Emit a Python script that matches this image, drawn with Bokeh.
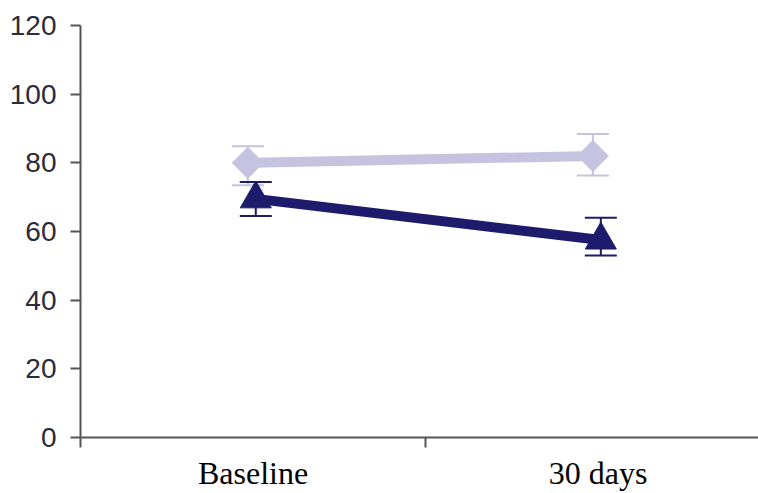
from bokeh.plotting import figure
from bokeh.models import ColumnDataSource, Whisker, TeeHead, FixedTicker, Range1d
from bokeh.embed import file_html
from bokeh.resources import INLINE

categories = ["Baseline", "30 days"]
light_vals = [80, 82]
light_lower = [73.5, 76.3]
light_upper = [84.8, 88.4]
dark_vals = [69.5, 57.5]
dark_lower = [64.5, 53]
dark_upper = [74.4, 64]
y_ticks = [0, 20, 40, 60, 80, 100, 120]

LIGHT = "#c6c3e0"
DARK = "#1e1b6c"

centers = [i + 0.5 for i in range(len(categories))]
light_x = [c - 0.015 for c in centers]
dark_x = [c + 0.008 for c in centers]

p = figure(width=758, height=493, output_backend="svg", toolbar_location=None,
           x_range=Range1d(0, 1.965), y_range=Range1d(0, 120),
           min_border_left=80, min_border_right=0, min_border_top=25, min_border_bottom=55)
p.outline_line_color = None
p.xgrid.visible = False
p.ygrid.visible = False

src_l = ColumnDataSource(dict(x=light_x, y=light_vals, lo=light_lower, hi=light_upper))
src_d = ColumnDataSource(dict(x=dark_x, y=dark_vals, lo=dark_lower, hi=dark_upper))

p.line("x", "y", source=src_l, line_color=LIGHT, line_width=10)
wl = Whisker(base="x", lower="lo", upper="hi", source=src_l, line_color=LIGHT, line_width=2,
             upper_head=TeeHead(size=32, line_color=LIGHT, line_width=2),
             lower_head=TeeHead(size=32, line_color=LIGHT, line_width=2))
p.add_layout(wl)
p.scatter("x", "y", source=src_l, marker="square", angle=0.785398, size=22,
          fill_color=LIGHT, line_color=LIGHT)

p.line("x", "y", source=src_d, line_color=DARK, line_width=10)
wd = Whisker(base="x", lower="lo", upper="hi", source=src_d, line_color=DARK, line_width=2,
             upper_head=TeeHead(size=32, line_color=DARK, line_width=2),
             lower_head=TeeHead(size=32, line_color=DARK, line_width=2))
p.add_layout(wd)
p.scatter("x", "y", source=src_d, marker="triangle", size=31,
          fill_color=DARK, line_color=DARK)

# y axis
ya = p.yaxis[0]
ya.ticker = FixedTicker(ticks=y_ticks)
ya.axis_line_color = "#555555"
ya.axis_line_width = 2
ya.major_tick_line_color = "#555555"
ya.major_tick_line_width = 2
ya.major_tick_in = 0
ya.major_tick_out = 10
ya.minor_tick_line_color = None
ya.major_label_text_font = "Liberation Sans"
ya.major_label_text_font_size = "28px"
ya.major_label_text_color = "#2b2b3b"
ya.major_label_standoff = 14

# x axis
xa = p.xaxis[0]
xa.ticker = FixedTicker(ticks=centers, minor_ticks=[0, 1, 2])
xa.major_label_overrides = {c: name for c, name in zip(centers, categories)}
xa.axis_line_color = "#555555"
xa.axis_line_width = 2
xa.major_tick_line_color = None
xa.major_tick_in = 0
xa.major_tick_out = 0
xa.minor_tick_line_color = "#555555"
xa.minor_tick_line_width = 2
xa.minor_tick_in = 0
xa.minor_tick_out = 10
xa.major_label_text_font = "Liberation Serif"
xa.major_label_text_font_size = "32px"
xa.major_label_text_color = "#000000"
xa.major_label_standoff = 7

open("out.html", "w").write(file_html(p, INLINE))
